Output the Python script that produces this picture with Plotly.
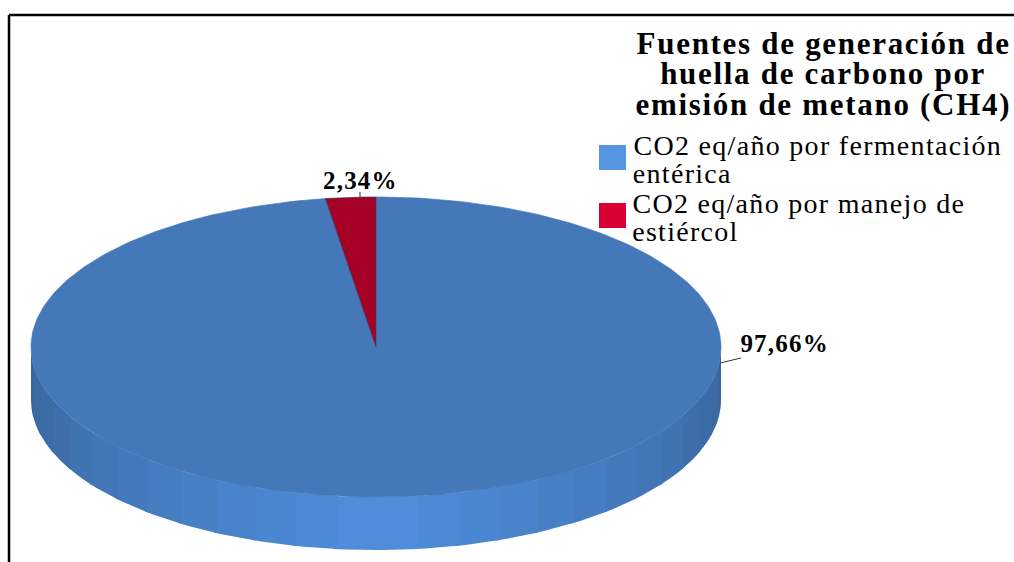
import math
import plotly.graph_objects as go

# Data
categories = ["CO2 eq/año por fermentación entérica", "CO2 eq/año por manejo de estiércol"]
shares = [97.66, 2.34]
value_labels = ["97,66%", "2,34%"]
title_lines = ["Fuentes de generación de", "huella de carbono por", "emisión de metano (CH4)"]
legend_lines = [["CO2 eq/año por fermentación", "entérica"], ["CO2 eq/año por manejo de", "estiércol"]]

# Geometry and styling
CX, CY, RX, RY, DEPTH = 376, 347, 345, 150, 53
TOP_COLORS = ["#4578B9", "#A50026"]
LEGEND_COLORS = ["#5595E2", "#D80032"]
SERIF = "Liberation Serif"


def pt(deg, dy=0):
    a = math.radians(deg)
    return CX + RX * math.sin(a), CY - RY * math.cos(a) + dy


def wedge(a0, a1):
    n = max(2, int(abs(a1 - a0)))
    pts = [pt(a0 + (a1 - a0) * i / n) for i in range(n + 1)]
    return [CX] + [p[0] for p in pts] + [CX], [CY] + [p[1] for p in pts] + [CY]


def lerp_hex(t):
    c0, c1 = (0x50, 0x8F, 0xDD), (0x38, 0x64, 0x9B)
    return "rgb(%d,%d,%d)" % tuple(round(a + (b - a) * t) for a, b in zip(c0, c1))


fig = go.Figure()

# side wall: 7 degree facets either side of the front, each overlapping the next
step = 7
for k in range(-13, 13):
    a0 = max(90, 180 + k * step)
    a1 = min(270, 180 + (k + 1) * step)
    mid = (a0 + a1) / 2
    over = 0.6 if mid < 180 else -0.6
    lo, hi = (a0, a1 + over) if mid < 180 else (a0 + over, a1)
    top = [pt(lo + (hi - lo) * i / 4) for i in range(5)]
    bot = [pt(hi - (hi - lo) * i / 4, DEPTH) for i in range(5)]
    xs = [p[0] for p in top + bot] + [top[0][0]]
    ys = [p[1] for p in top + bot] + [top[0][1]]
    col = lerp_hex(abs(mid - 180) / 90)
    fig.add_trace(go.Scatter(x=xs, y=ys, mode="lines", fill="toself", fillcolor=col,
                             line=dict(width=0), hoverinfo="skip", showlegend=False))

# top faces, clockwise from 12 o'clock, last share ends at the top
total = sum(shares)
blue_sweep = shares[0] / total * 360
for name, a0, a1, col, line_col in [
    (categories[0], 0, blue_sweep, TOP_COLORS[0], TOP_COLORS[0]),
    (categories[1], blue_sweep, 360, TOP_COLORS[1], "#3A3A55"),
]:
    xs, ys = wedge(a0, a1)
    fig.add_trace(go.Scatter(x=xs, y=ys, mode="lines", fill="toself", fillcolor=col, name=name,
                             line=dict(color=line_col, width=0.7), showlegend=False))

shapes = [
    dict(type="line", x0=9, x1=9, y0=15, y1=562, line=dict(color="black", width=2.5)),
    dict(type="line", x0=9, x1=1014, y0=15, y1=15, line=dict(color="black", width=2.5)),
    dict(type="line", x0=720, x1=741, y0=363, y1=358, line=dict(color="#333333", width=1)),
    dict(type="line", x0=360, x1=360, y0=192, y1=197, line=dict(color="#333333", width=1)),
    dict(type="rect", x0=599, x1=626, y0=145, y1=170, fillcolor=LEGEND_COLORS[0], line=dict(width=0)),
    dict(type="rect", x0=599, x1=626, y0=203, y1=228, fillcolor=LEGEND_COLORS[1], line=dict(width=0)),
]

annotations = []


def text(x, y, s, size, bold=False):
    annotations.append(dict(x=x, y=y, text=f"<b>{s}</b>" if bold else s, showarrow=False, xanchor="center",
                            yanchor="middle", font=dict(family=SERIF, size=size, color="black")))


for y, s in zip([43, 73, 104], title_lines):
    text(823, y, s, 31, bold=True)
for y0, lines, centers in zip([145, 203], legend_lines, [[817.5, 682], [798.5, 685]]):
    for i, s in enumerate(lines):
        text(centers[i], y0 + i * 28, s, 28)
text(784, 343, value_labels[0], 25, bold=True)
text(360.5, 180, value_labels[1], 25, bold=True)

fig.update_layout(
    width=1014, height=562, margin=dict(l=0, r=0, t=0, b=0),
    paper_bgcolor="white", plot_bgcolor="white", showlegend=False,
    xaxis=dict(range=[0, 1014], visible=False, fixedrange=True),
    yaxis=dict(range=[562, 0], visible=False, fixedrange=True),
    shapes=shapes, annotations=annotations,
)

POST = """
document.body.style.margin='0';document.body.style.overflow='hidden';
var gd=document.getElementById('{plot_id}');
function spacing(){
  gd.querySelectorAll('.annotation-text').forEach(function(t){
    var s=parseFloat(t.style.fontSize);
    t.style.letterSpacing=(s>=31?1.7:(s>=28?1.3:1.2))+'px';
  });
}
spacing();
if(gd.on){gd.on('plotly_afterplot',spacing);}
"""
fig.write_html("out.html", post_script=POST, config={"displayModeBar": False})
